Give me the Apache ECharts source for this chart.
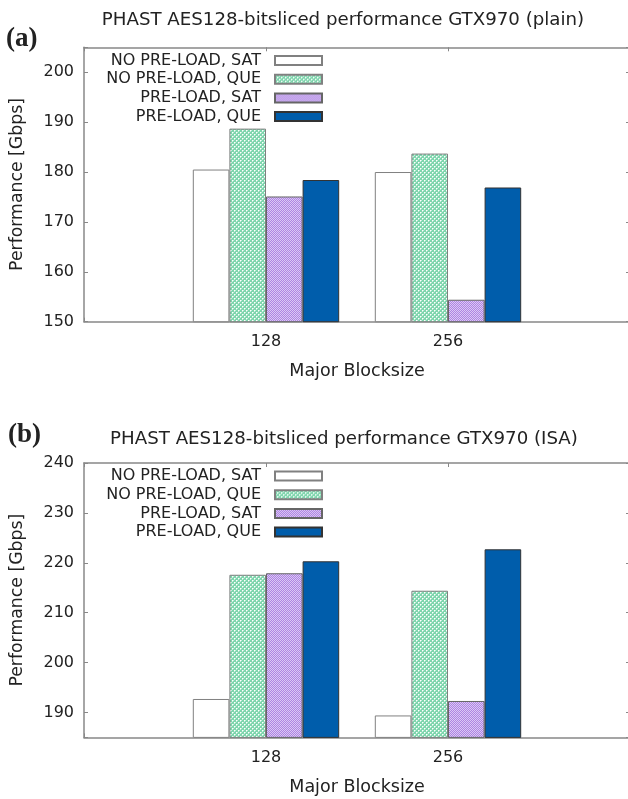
<!DOCTYPE html>
<html><head><meta charset="utf-8">
<script src="https://cdn.jsdelivr.net/npm/echarts@6/dist/echarts.min.js"></script>
<style>html,body{margin:0;padding:0;background:#fff}#c{width:628px;height:799px}</style>
</head><body><div id="c"></div>
<script>
const categories = ['', '128', '256', ''];
const seriesNames = ['NO PRE-LOAD, SAT', 'NO PRE-LOAD, QUE', 'PRE-LOAD, SAT', 'PRE-LOAD, QUE'];
// (a) plain
const plainNoPreSat = [null, 180.5, 180.0, null];
const plainNoPreQue = [null, 188.7, 183.7, null];
const plainPreSat   = [null, 175.1, 154.4, null];
const plainPreQue   = [null, 178.4, 176.9, null];
// (b) ISA
const isaNoPreSat = [null, 192.7, 189.4, null];
const isaNoPreQue = [null, 217.6, 214.4, null];
const isaPreSat   = [null, 217.9, 192.3, null];
const isaPreQue   = [null, 220.3, 222.7, null];
const titleA = 'PHAST AES128-bitsliced performance GTX970 (plain)';
const titleB = 'PHAST AES128-bitsliced performance GTX970 (ISA)';

function makePattern(base, size, cells) {
  const c = document.createElement('canvas');
  c.width = size; c.height = size;
  const g = c.getContext('2d');
  g.fillStyle = base; g.fillRect(0, 0, size, size);
  cells.forEach(p => { g.fillStyle = p[4]; g.fillRect(p[0], p[1], p[2], p[3]); });
  return { image: c, repeat: 'repeat' };
}
const greenPat = makePattern('#7fd5ad', 4, [[0,0,1,1,'#ffffff'],[2,2,1,1,'#ffffff'],[1,0,1,1,'#c4eedb'],[0,1,1,1,'#c4eedb'],[3,2,1,1,'#c4eedb'],[2,3,1,1,'#c4eedb']]);
const purplePat = makePattern('#ad84e2', 2, [[0,0,1,1,'#dcc8f5'],[1,1,1,1,'#dcc8f5']]);

const styles = [
  { color: '#ffffff', borderColor: '#808080', borderWidth: 1 },
  { color: greenPat, borderColor: '#808080', borderWidth: 1 },
  { color: purplePat, borderColor: '#666666', borderWidth: 1 },
  { color: '#005dab', borderColor: '#333333', borderWidth: 1 }
];

const FONT = 'DejaVu Sans';
const axisCol = '#888888';

function grid(top) { return { left: 84, top: top, width: 546, height: 274.4, outerBoundsMode: 'none', containLabel: false }; }

function xAxes(gi) {
  return [{
    type: 'category', gridIndex: gi, data: categories, boundaryGap: false, position: 'bottom',
    axisLine: { lineStyle: { color: axisCol, width: 1.5 } },
    axisTick: { show: true, inside: true, length: 4, lineStyle: { color: axisCol } },
    axisLabel: { color: '#222', fontFamily: FONT, fontSize: 16, margin: 12 },
    name: 'Major Blocksize', nameLocation: 'middle', nameGap: 41,
    nameTextStyle: { color: '#222', fontFamily: FONT, fontSize: 17.5 },
    splitLine: { show: false }
  }, {
    type: 'category', gridIndex: gi, data: categories, boundaryGap: false, position: 'top',
    axisLine: { lineStyle: { color: axisCol, width: 1.5 } },
    axisTick: { show: true, inside: true, length: 4, lineStyle: { color: axisCol } },
    axisLabel: { show: false }, splitLine: { show: false }
  }];
}
function yAxes(gi, min, max) {
  const fmt = v => (v % 10 === 0 ? String(v) : '');
  return [{
    type: 'value', gridIndex: gi, min: min, max: max, splitNumber: 5, position: 'left',
    axisLine: { show: true, lineStyle: { color: axisCol, width: 1.5 } },
    axisTick: { show: true, inside: true, length: 4, lineStyle: { color: axisCol } },
    axisLabel: { color: '#222', fontFamily: FONT, fontSize: 16, margin: 10, formatter: fmt },
    splitLine: { show: false },
    name: 'Performance [Gbps]', nameLocation: 'middle', nameGap: 58,
    nameTextStyle: { color: '#222', fontFamily: FONT, fontSize: 17.3 }
  }, {
    type: 'value', gridIndex: gi, min: min, max: max, splitNumber: 5, position: 'right',
    axisLine: { show: true, lineStyle: { color: axisCol, width: 1.5 } },
    axisTick: { show: true, inside: true, length: 4, lineStyle: { color: axisCol } },
    axisLabel: { show: false }, splitLine: { show: false }
  }];
}
function bars(gi, arrs) {
  return arrs.map((d, i) => ({
    type: 'bar', name: seriesNames[i], xAxisIndex: gi * 2, yAxisIndex: gi * 2,
    data: d, barWidth: 36.6, barGap: '0%', itemStyle: styles[i], silent: true,
    emphasis: { disabled: true }
  }));
}
function legend(top) {
  return {
    orient: 'vertical', right: 305, top: top, align: 'right', padding: 0,
    itemWidth: 47, itemHeight: 9, itemGap: 2.7, selectedMode: false,
    data: seriesNames.map(n => ({ name: n, icon: 'rect' })),
    textStyle: { color: '#222', fontFamily: FONT, fontSize: 16, lineHeight: 16, padding: [0, 9, 0, 0] }
  };
}

const chart = echarts.init(document.getElementById('c'), null, { renderer: 'canvas' });
chart.setOption({
  animation: false,
  title: [
    { text: titleA, left: 343, top: 11.5, textAlign: 'center', padding: 0,
      textStyle: { fontFamily: FONT, fontSize: 18.2, fontWeight: 'normal', color: '#222' } },
    { text: titleB, left: 344, top: 430.5, textAlign: 'center', padding: 0,
      textStyle: { fontFamily: FONT, fontSize: 18.2, fontWeight: 'normal', color: '#222' } },
    { text: '(a)', left: 6, top: 25.5, padding: 0,
      textStyle: { fontFamily: 'Liberation Serif', fontSize: 27, fontWeight: 'bold', color: '#222' } },
    { text: '(b)', left: 8, top: 422, padding: 0,
      textStyle: { fontFamily: 'Liberation Serif', fontSize: 27, fontWeight: 'bold', color: '#222' } }
  ],
  legend: [legend(52.5), legend(468)],
  grid: [grid(47.3), grid(463)],
  xAxis: xAxes(0).concat(xAxes(1)),
  yAxis: yAxes(0, 150, 205).concat(yAxes(1, 185, 240)),
  series: bars(0, [plainNoPreSat, plainNoPreQue, plainPreSat, plainPreQue])
    .concat(bars(1, [isaNoPreSat, isaNoPreQue, isaPreSat, isaPreQue]))
});
</script></body></html>
